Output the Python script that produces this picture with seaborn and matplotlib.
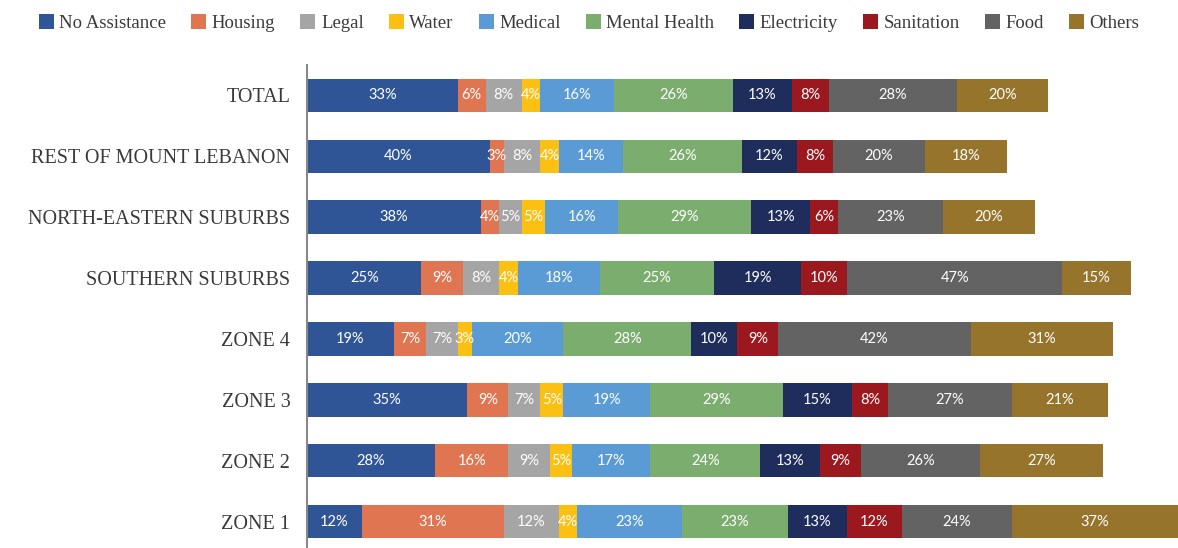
import numpy as np
import pandas as pd
import matplotlib
matplotlib.use("Agg")
import matplotlib.pyplot as plt
import seaborn as sns
from matplotlib.patches import Patch

categories = ["TOTAL", "REST OF MOUNT LEBANON", "NORTH-EASTERN SUBURBS", "SOUTHERN SUBURBS",
              "ZONE 4", "ZONE 3", "ZONE 2", "ZONE 1"]
series = ["No Assistance", "Housing", "Legal", "Water", "Medical", "Mental Health",
          "Electricity", "Sanitation", "Food", "Others"]

no_assistance = [33, 40, 38, 25, 19, 35, 28, 12]
housing       = [6, 3, 4, 9, 7, 9, 16, 31]
legal         = [8, 8, 5, 8, 7, 7, 9, 12]
water         = [4, 4, 5, 4, 3, 5, 5, 4]
medical       = [16, 14, 16, 18, 20, 19, 17, 23]
mental_health = [26, 26, 29, 25, 28, 29, 24, 23]
electricity   = [13, 12, 13, 19, 10, 15, 13, 13]
sanitation    = [8, 8, 6, 10, 9, 8, 9, 12]
food          = [28, 20, 23, 47, 42, 27, 26, 24]
others        = [20, 18, 20, 15, 31, 21, 27, 37]

values = [no_assistance, housing, legal, water, medical, mental_health,
          electricity, sanitation, food, others]
colors = ["#2F5597", "#E07552", "#A5A5A5", "#FCC013", "#5B9BD5", "#7BAE6E",
          "#1F2D5C", "#9A181E", "#636363", "#96742B"]

sns.set_theme(style="white")
plt.rcParams["font.family"] = ["Liberation Serif", "DejaVu Serif"]

fig = plt.figure(figsize=(11.78, 5.48), dpi=100)
ax = fig.add_axes([307 / 1178, -4 / 548, 871 / 1178, 487 / 548])

left = np.zeros(len(categories))
for name, vals, col in zip(series, values, colors):
    df = pd.DataFrame({"cat": categories, "val": vals})
    sns.barplot(data=df, y="cat", x="val", orient="y", color=col, ax=ax,
                left=left, width=0.55, linewidth=0, saturation=1, errorbar=None)
    cont = ax.containers[-1]
    ax.bar_label(cont, labels=[f"{v}%" for v in vals], label_type="center",
                 color="white", fontsize=10.5, family="Lato")
    left = left + np.array(vals)

ax.set_xlim(0, 190.3)
ax.set_ylim(7.5, -0.5)
ax.set_xlabel("")
ax.set_ylabel("")
ax.set_xticks([])
ax.tick_params(axis="y", length=0, pad=12)
for lbl in ax.get_yticklabels():
    lbl.set_fontsize(14.5)
    lbl.set_color("#3A3A3A")
for s in ["top", "right", "bottom"]:
    ax.spines[s].set_visible(False)
ax.spines["left"].set_color("#888888")
ax.spines["left"].set_linewidth(1.5)

handles = [Patch(facecolor=c, edgecolor="none") for c in colors]
fig.legend(handles, series, loc="center", bbox_to_anchor=(589 / 1178, 1 - 23 / 548), ncol=10,
           frameon=False, handlelength=0.8, handleheight=0.8, handletextpad=0.3,
           columnspacing=1.33, prop={"size": 13.5})
for t in fig.legends[0].get_texts():
    t.set_color("#3A3A3A")

fig.savefig("out.png", dpi=100)
